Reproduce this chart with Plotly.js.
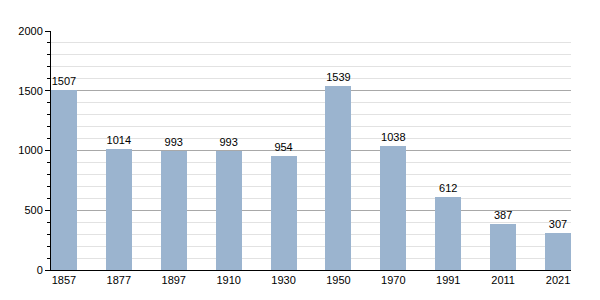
<!DOCTYPE html>
<html>
<head>
<meta charset="utf-8">
<script src="https://cdn.plot.ly/plotly-3.0.1.min.js"></script>
<style>html,body{margin:0;padding:0;background:#fff;}#chart{width:600px;height:300px;}</style>
</head>
<body>
<div id="chart"></div>
<script>
const years = ["1857","1877","1897","1910","1930","1950","1970","1991","2011","2021"];
const population = [1507,1014,993,993,954,1539,1038,612,387,307];
const yTickValues = [0,500,1000,1500,2000];

Plotly.newPlot('chart', [{
  type: 'bar',
  x: years,
  y: population,
  text: population.map(String),
  textposition: 'outside',
  cliponaxis: false,
  textfont: {family: 'Liberation Sans, Arial, sans-serif', size: 11, color: '#000'},
  marker: {color: '#9bb4cf', line: {width: 0}},
  width: 0.473,
  hoverinfo: 'none'
}], {
  width: 600, height: 300,
  margin: {l: 51, r: 29, t: 31, b: 30},
  paper_bgcolor: '#fff', plot_bgcolor: '#fff',
  showlegend: false,
  font: {family: 'Liberation Sans, Arial, sans-serif', size: 11, color: '#000'},
  xaxis: {
    type: 'category',
    range: [-0.236, 9.236],
    showline: true, linecolor: '#000', linewidth: 1,
    ticks: '', showgrid: false, zeroline: false,
    tickfont: {size: 11, color: '#000'}
  },
  yaxis: {
    range: [0, 2000],
    tickvals: yTickValues,
    showline: true, linecolor: '#000', linewidth: 1,
    ticks: 'outside', ticklen: 5, tickcolor: '#000',
    showgrid: true, gridcolor: '#a8a8a8', gridwidth: 1,
    zeroline: false,
    tickfont: {size: 11, color: '#000'},
    minor: {dtick: 100, showgrid: true, gridcolor: '#e2e2e2', ticks: 'outside', ticklen: 3, tickcolor: '#000'}
  },
  bargap: 0
}, {staticPlot: true});
</script>
</body>
</html>
